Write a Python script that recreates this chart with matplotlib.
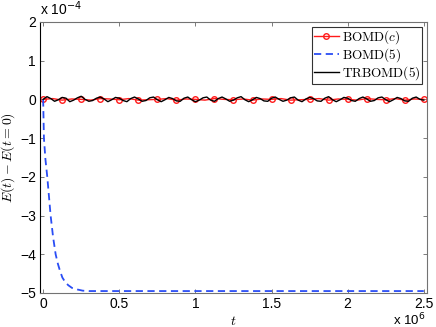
import numpy as np
import matplotlib.pyplot as plt
from matplotlib.ticker import FuncFormatter

plt.rcParams['font.family'] = ['Liberation Sans', 'DejaVu Sans']
plt.rcParams['mathtext.fontset'] = 'cm'

# energy drift, units of 1e-4, time in units of 1e6
t_bomd5 = [0, 0.005, 0.015, 0.027, 0.038, 0.049, 0.065, 0.082, 0.097, 0.11, 0.126,
           0.145, 0.165, 0.19, 0.225, 0.26, 0.3, 2.5]
e_bomd5 = [0, -1.0, -1.55, -2.0, -2.5, -3.0, -3.55, -4.0, -4.25, -4.42, -4.6,
           -4.72, -4.8, -4.87, -4.91, -4.94, -4.95, -4.95]

e_trbomd = [0.00, 0.07, 0.02, -0.05, -0.01, 0.05, 0.03, -0.06, -0.02, 0.04,
            0.08, 0.00, -0.05, -0.03, 0.03, 0.06, 0.01, -0.06, -0.01, 0.05,
            0.03, -0.03, -0.06, 0.02, 0.06, 0.01, -0.05, -0.03, 0.04, 0.06,
            -0.01, -0.06, -0.01, 0.05, 0.02, -0.04, -0.05, 0.03, 0.06, -0.01,
            -0.06, -0.02, 0.04, 0.06, -0.02, -0.05, 0.02, 0.06, 0.01, -0.05,
            -0.02, 0.04, 0.07, -0.01, -0.06, -0.01, 0.05, 0.02, -0.04, -0.05,
            0.03, 0.06, 0.00, -0.05, -0.02, 0.04, 0.06, -0.02, -0.06, 0.01,
            0.05, 0.02, -0.04, -0.05, 0.03, 0.07, -0.01, -0.06, -0.01, 0.05,
            0.03, -0.03, -0.05, 0.02, 0.06, 0.01, -0.05, -0.03, 0.04, 0.06,
            -0.01, -0.06, -0.01, 0.05, 0.02, -0.04, -0.05, 0.03, 0.06, 0.00,
            -0.02]

e_bomdc = [0.00, 0.02, -0.02, 0.01, 0.00, -0.02, 0.02, 0.01, -0.01, 0.02,
           -0.02, -0.01, 0.00, 0.02, -0.02, 0.01, 0.00, -0.02, 0.02, 0.00,
           -0.01, 0.01, -0.02, 0.01, 0.00, 0.02, -0.02, -0.01, 0.00, 0.02,
           -0.02, 0.01, 0.00, -0.02, 0.02, 0.00, -0.01, 0.02, -0.02, 0.01,
           0.00]

t_tr = np.linspace(0, 2.5, len(e_trbomd)) * 1e6
t_c = np.linspace(0, 2.5, len(e_bomdc)) * 1e6

fig = plt.figure(figsize=(4.36, 3.27), dpi=100)
ax = fig.add_axes([0.092, 0.104, 0.887, 0.829])

ax.plot(t_c, np.array(e_bomdc) * 1e-4, '-o', color='#ff1a1a', lw=1.0, ms=4,
        mfc='none', mew=1.0, markevery=2, label=r'$\mathrm{BOMD}(c)$')
ax.plot(np.array(t_bomd5) * 1e6, np.array(e_bomd5) * 1e-4, '--', color='#2a4df5',
        lw=1.3, dashes=(4, 2.5), label=r'$\mathrm{BOMD}(5)$')
ax.plot(t_tr, np.array(e_trbomd) * 1e-4, '-', color='black', lw=1.0,
        label=r'$\mathrm{TRBOMD}(5)$')

ax.set_xlim(-0.02e6, 2.52e6)
ax.set_ylim(-5e-4, 2e-4)
ax.set_xticks(np.arange(0, 2.51, 0.5) * 1e6)
ax.set_yticks(np.arange(-5, 2.1, 1) * 1e-4)
ax.xaxis.set_major_formatter(FuncFormatter(lambda v, p: ('%g' % round(v / 1e6, 2)).replace('-', '\u2212')))
ax.yaxis.set_major_formatter(FuncFormatter(lambda v, p: ('%g' % round(v / 1e-4, 2)).replace('-', '\u2212')))
ax.tick_params(direction='in', length=3, width=0.6, color='0.4', top=True, right=True,
               labelsize=10, pad=3)
for s in ax.spines.values():
    s.set_color('0.45')
    s.set_linewidth(0.8)
ax.spines['left'].set_color('black')

ax.set_xlabel(r'$t$', fontsize=10, labelpad=2)
ax.set_ylabel(r'$E(t)-E(t=0)$', fontsize=10, labelpad=2)

fig.text(0.092, 0.945, r'x 10$^{-4}$', fontsize=10, ha='left', va='bottom',
         math_fontfamily='dejavusans')
fig.text(0.975, 0.006, r'x 10$^{6}$', fontsize=9.5, ha='right', va='baseline',
         math_fontfamily='dejavusans')

leg = ax.legend(loc='upper right', fontsize=9.5, frameon=True, fancybox=False,
                edgecolor='black', borderpad=0.15, labelspacing=0.0,
                handlelength=1.9, handletextpad=0.2, borderaxespad=0.35)
leg.get_frame().set_linewidth(0.8)

fig.savefig('out.png', dpi=100)
